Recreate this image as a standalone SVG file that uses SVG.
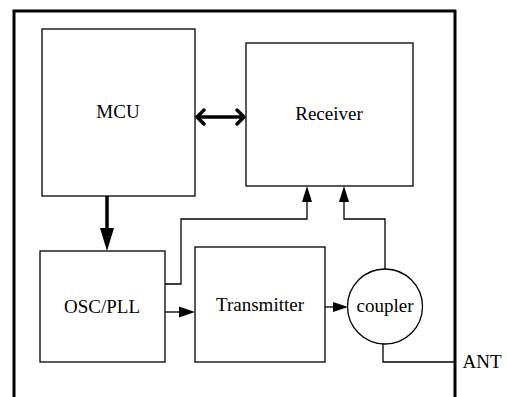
<svg xmlns="http://www.w3.org/2000/svg" width="507" height="397" viewBox="0 0 507 397">
<style>
.box{fill:#fff;stroke:#000;stroke-width:1.3}
.lbl{font-family:"Liberation Serif",serif;font-size:19px;fill:#000;text-anchor:middle}
.thin{fill:none;stroke:#000;stroke-width:1.3}
.thick{fill:none;stroke:#000;stroke-width:3.5}
.head{fill:#000;stroke:none}
</style>
<rect width="507" height="397" fill="#fff"/>
<path d="M14,397 V11 H455 V397" fill="none" stroke="#000" stroke-width="3"/>
<g id="mcu"><rect class="box" x="42" y="29" width="153" height="167"/><text class="lbl" x="118" y="118">MCU</text></g>
<g id="receiver"><rect class="box" x="246" y="43" width="167" height="143"/><text class="lbl" x="329" y="120">Receiver</text></g>
<g id="oscpll"><rect class="box" x="40" y="251" width="125" height="111"/><text class="lbl" x="102" y="313">OSC/PLL</text></g>
<g id="transmitter"><rect class="box" x="195" y="247" width="130" height="115"/><text class="lbl" x="260" y="311">Transmitter</text></g>
<g id="coupler"><circle class="box" cx="385" cy="306.5" r="37.5"/><text class="lbl" x="385" y="312">coupler</text></g>
<g id="ant"><text class="lbl" x="482" y="368">ANT</text></g>
<g id="connectors">
<line class="thick" x1="197" y1="117" x2="244" y2="117"/>
<path class="thick" d="M204,110 L197,117 L204,124 M237,110 L244,117 L237,124" stroke-linecap="round" stroke-linejoin="round"/>
<line class="thick" x1="107" y1="196" x2="107" y2="230"/>
<path class="head" d="M100,228 L114,228 L107,251 Z"/>
<line class="thin" x1="165" y1="312" x2="181" y2="312"/>
<path class="head" d="M179,306.5 L195,312 L179,317.5 Z"/>
<path class="thin" d="M165,284 H181 V219 H307 V200"/>
<path class="head" d="M302,202 L312,202 L307,186 Z"/>
<line class="thin" x1="325" y1="307" x2="335" y2="307"/>
<path class="head" d="M333,302 L348,307 L333,312 Z"/>
<path class="thin" d="M385,269 V219 H344 V200"/>
<path class="head" d="M339,202 L349,202 L344,186 Z"/>
<path class="thin" d="M383,344 V362 H455"/>
</g>
</svg>
